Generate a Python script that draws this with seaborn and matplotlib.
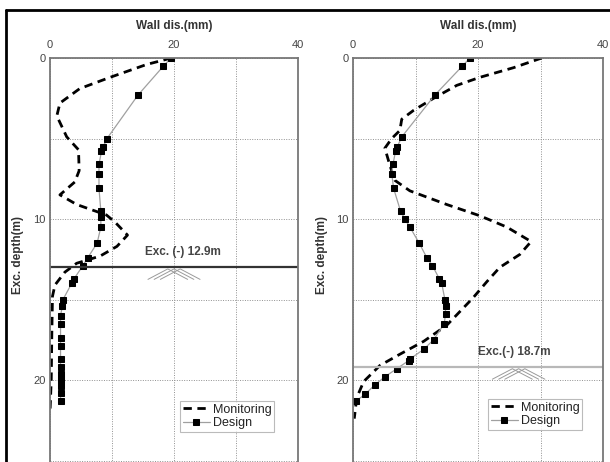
import numpy as np
import pandas as pd
import matplotlib
matplotlib.use("Agg")
import matplotlib.pyplot as plt
import seaborn as sns
from matplotlib.lines import Line2D
from matplotlib.ticker import MultipleLocator

# wall displacement (mm) vs depth (m)
mon_l_x = [19.6, 15.6, 9.7, 4.8, 1.6, 1.1, 2.7, 4.6, 4.7, 4.0, 1.6, 4.3, 9.1, 10.5,
           12.5, 10.8, 8.1, 4.3, 2.4, 0.8, 0.4, 0.3, 0.2, 0.0]
mon_l_d = [0.0, 0.4, 1.2, 1.9, 2.8, 3.6, 4.9, 5.7, 7.0, 7.7, 8.5, 9.1, 9.75, 10.2,
           11.0, 11.7, 12.3, 12.75, 13.3, 14.1, 14.8, 17.0, 20.0, 22.0]
des_l_x = [19.5, 18.3, 14.2, 9.2, 8.6, 8.3, 7.9, 7.9, 7.9, 8.2, 8.2, 8.2, 7.6, 6.1,
           5.3, 3.9, 3.5, 2.1, 2.0, 1.7, 1.7, 1.7, 1.7, 1.7, 1.7, 1.7, 1.7, 1.7, 1.7, 1.7]
des_l_d = [0.0, 0.5, 2.3, 5.0, 5.5, 5.8, 6.6, 7.2, 8.1, 9.5, 9.9, 10.5, 11.5, 12.4,
           12.9, 13.7, 14.0, 15.0, 15.4, 16.0, 16.5, 17.4, 17.9, 18.7, 19.2, 19.6,
           20.0, 20.4, 20.8, 21.3]

mon_r_x = [30.2, 25.7, 20.3, 16.6, 12.9, 9.7, 7.8, 7.5, 6.2, 5.1, 5.7, 6.5, 6.7, 9.1,
           15.0, 20.3, 24.6, 28.5, 26.7, 23.5, 21.4, 19.2, 17.1, 15.0, 11.3, 7.5, 4.3,
           1.7, 0.6, 0.2]
mon_r_d = [0.0, 0.6, 1.2, 1.7, 2.5, 3.25, 3.8, 4.5, 5.0, 5.6, 6.4, 7.4, 7.6, 8.25,
           9.1, 9.8, 10.5, 11.4, 12.2, 13.0, 13.9, 14.9, 15.75, 16.6, 17.6, 18.4, 19.1,
           20.1, 21.1, 22.4]
des_r_x = [18.7, 17.5, 13.1, 7.8, 7.1, 6.8, 6.4, 6.2, 6.5, 7.6, 8.3, 9.1, 10.6, 11.8,
           12.7, 13.8, 14.2, 14.7, 14.8, 14.8, 14.6, 12.9, 11.3, 9.1, 8.9, 7.0, 5.1,
           3.5, 1.9, 0.5]
des_r_d = [0.0, 0.5, 2.3, 4.9, 5.5, 5.8, 6.6, 7.2, 8.1, 9.5, 10.0, 10.5, 11.5, 12.4,
           12.9, 13.7, 14.0, 15.0, 15.4, 15.9, 16.5, 17.5, 18.1, 18.7, 18.8, 19.3,
           19.8, 20.3, 20.9, 21.3]

exc_labels = ["Exc. (-) 12.9m", "Exc.(-) 18.7m"]
exc_depth = [13.0, 19.2]
exc_color = ["#333333", "#b8b8b8"]
ground_x = [20.0, 26.5]

sns.set_style("white")
plt.rcParams["font.family"] = ["Liberation Sans", "DejaVu Sans"]

fig = plt.figure(figsize=(6.1, 4.62), dpi=100)
W, H = 610, 462
ymax = 26
px_m = 16.1
ax_h = ymax * px_m
axes_px = [(50, 298), (353, 603)]

panels = [
    (mon_l_x, mon_l_d, des_l_x, des_l_d),
    (mon_r_x, mon_r_d, des_r_x, des_r_d),
]

for i, (mx, md, dx, dd) in enumerate(panels):
    x0, x1 = axes_px[i]
    ax = fig.add_axes([x0 / W, 1 - (58 + ax_h) / H, (x1 - x0) / W, ax_h / H])
    mon = pd.DataFrame({"x": mx, "d": md})
    des = pd.DataFrame({"x": dx, "d": dd})
    sns.lineplot(data=mon, x="x", y="d", sort=False, estimator=None, ax=ax,
                 color="black", lw=2.0, dashes=False, label="Monitoring")
    ax.lines[-1].set_dashes([3, 2])
    sns.lineplot(data=des, x="x", y="d", sort=False, estimator=None, ax=ax,
                 color="#a0a0a0", lw=0.9, marker="s", markersize=5,
                 markerfacecolor="black", markeredgecolor="black", label="Design")

    ax.set_xlim(0, 40)
    ax.set_ylim(ymax, 0)
    ax.xaxis.tick_top()
    ax.xaxis.set_major_locator(MultipleLocator(20))
    ax.xaxis.set_minor_locator(MultipleLocator(10))
    ax.yaxis.set_major_locator(MultipleLocator(10))
    ax.yaxis.set_minor_locator(MultipleLocator(5))
    ax.grid(True, which="both", color="#909090", ls=(0, (1, 1.5)), lw=0.7)
    ax.tick_params(which="both", length=0, labelsize=8, colors="#444444")
    ax.tick_params(axis="x", pad=6)
    ax.tick_params(axis="y", pad=3)
    ax.set_xlabel("")
    ax.set_ylabel("")
    for s in ax.spines.values():
        s.set_color("#777777")
        s.set_linewidth(1.3)

    # excavation level and ground symbol
    ed = exc_depth[i]
    ax.axhline(ed, color=exc_color[i], lw=1.6)
    gx = ground_x[i]
    for off in (-1.0, 0.0, 1.0):
        ax.plot([gx + off - 3.2, gx + off, gx + off + 3.2], [ed + 0.75, ed + 0.1, ed + 0.75],
                color="#9a9a9a", lw=0.7)
    lx = [21.5, 25.8][i]
    ax.text(lx, ed - 0.55, exc_labels[i], ha="center", va="bottom", fontsize=8.5,
            fontweight="bold", color="#444444")

    leg = ax.legend(loc="upper left", bbox_to_anchor=([180, 488][i] / W, 1 - [401, 399][i] / H),
                    bbox_transform=fig.transFigure, frameon=True, fancybox=False,
                    fontsize=9, handlelength=2.2, handletextpad=0.2, labelspacing=0.15,
                    borderpad=0.2, borderaxespad=0)
    leg.get_frame().set_edgecolor("#aaaaaa")
    leg.get_frame().set_linewidth(0.8)
    for t in leg.get_texts():
        t.set_color("#222222")

    fig.text((x0 + x1) / 2 / W, 1 - 26 / H, "Wall dis.(mm)", ha="center", va="center",
             fontsize=8.5, fontweight="bold", color="#333333")
    fig.text([18, 322][i] / W, 1 - 255 / H, "Exc. depth(m)", ha="center", va="center",
             rotation=90, fontsize=8.5, fontweight="bold", color="#333333")

# outer frame
fig.add_artist(Line2D([6 / W, 1], [1 - 10 / H, 1 - 10 / H], color="black", lw=2))
fig.add_artist(Line2D([6 / W, 6 / W], [0, 1 - 10 / H], color="black", lw=2))

fig.savefig("out.png", dpi=100)
